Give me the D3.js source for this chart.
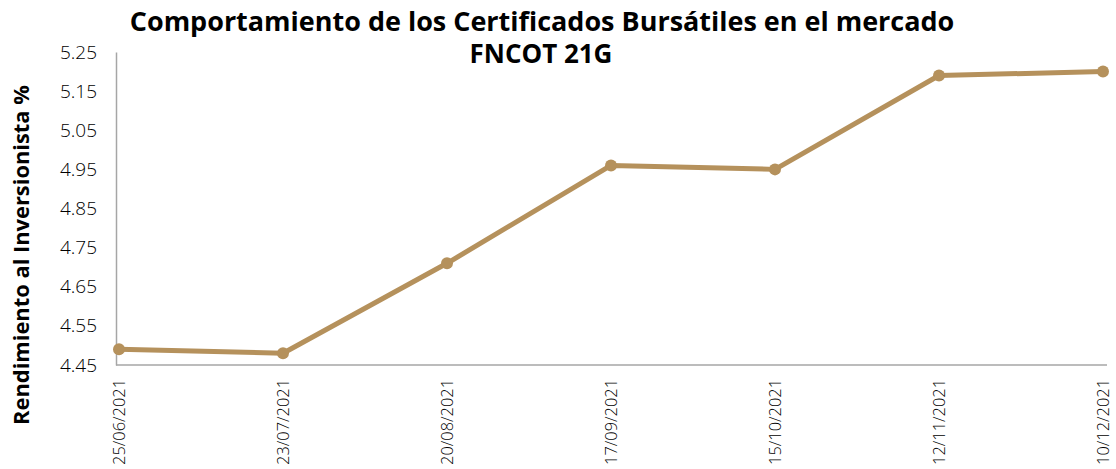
<!DOCTYPE html>
<html>
<head>
<meta charset="utf-8">
<script src="https://cdn.jsdelivr.net/npm/d3@7"></script>
<style>
  body { margin: 0; background: #fff; }
  svg { display: block; font-family: "Open Sans", "Noto Sans", sans-serif; }
</style>
</head>
<body>
<div id="chart"></div>
<script>
// Datos del gráfico
const fechas = ["25/06/2021", "23/07/2021", "20/08/2021", "17/09/2021", "15/10/2021", "12/11/2021", "10/12/2021"];
const rendimiento = [4.49, 4.48, 4.71, 4.96, 4.95, 5.19, 5.20];
const yTicks = [4.45, 4.55, 4.65, 4.75, 4.85, 4.95, 5.05, 5.15, 5.25];
const titulo = ["Comportamiento de los Certificados Bursátiles en el mercado", "FNCOT 21G"];
const tituloY = "Rendimiento al Inversionista %";

const width = 1116;
const height = 469;
const color = "#b5915c";
const fuente = "\"Open Sans\", \"Noto Sans\", sans-serif";

const svg = d3.select("#chart")
  .append("svg")
  .attr("width", width)
  .attr("height", height);

// ajusta el tamaño de letra para que el texto ocupe el ancho medido en la imagen
function ajustar(sel, ancho) {
  sel.each(function() {
    const w = this.getComputedTextLength();
    const fs = parseFloat(d3.select(this).attr("font-size"));
    d3.select(this).attr("font-size", fs * ancho / w);
  });
}

// Escalas
const x = d3.scalePoint()
  .domain(fechas)
  .range([119, 1103]);

const y = d3.scaleLinear()
  .domain([4.45, 5.25])
  .range([365, 52]);

// Eje Y
const yAxis = d3.axisLeft(y).tickValues(yTicks).tickSize(0).tickPadding(19)
  .tickFormat(d3.format(".2f"));
svg.append("g")
  .attr("transform", "translate(116,0)")
  .call(yAxis)
  .attr("font-family", fuente)
  .call(g => g.select(".domain").attr("stroke", "#a6a6a6").attr("stroke-width", 1.5))
  .call(g => g.selectAll("text")
    .attr("font-size", 19)
    .attr("font-weight", 300)
    .attr("fill", "#000"));

// Eje X
const xAxis = d3.axisBottom(x).tickSize(0).tickPadding(0);
svg.append("g")
  .attr("transform", "translate(0,365)")
  .call(xAxis)
  .attr("font-family", fuente)
  .call(g => g.select(".domain")
    .attr("d", "M-3,0H988")
    .attr("transform", "translate(119,0)")
    .attr("stroke", "#a6a6a6").attr("stroke-width", 1.5))
  .call(g => g.selectAll("text")
    .attr("font-size", 17)
    .attr("font-weight", 300)
    .attr("fill", "#000")
    .attr("text-anchor", "end")
    .attr("dy", "0.35em")
    .attr("transform", "translate(0,14) rotate(-90)")
    .attr("y", 0)
    .attr("x", 0)
    .call(ajustar, 86));

// Línea
const line = d3.line()
  .x((d, i) => x(fechas[i]))
  .y(d => y(d));

svg.append("path")
  .datum(rendimiento)
  .attr("fill", "none")
  .attr("stroke", color)
  .attr("stroke-width", 5)
  .attr("stroke-linejoin", "round")
  .attr("d", line);

svg.selectAll("circle.pt")
  .data(rendimiento)
  .enter()
  .append("circle")
  .attr("class", "pt")
  .attr("cx", (d, i) => x(fechas[i]))
  .attr("cy", d => y(d))
  .attr("r", 6)
  .attr("fill", color);

// Título
svg.append("text")
  .attr("x", 542).attr("y", 31)
  .attr("text-anchor", "middle")
  .attr("font-size", 22).attr("font-weight", 700).attr("fill", "#000")
  .text(titulo[0])
  .call(ajustar, 825);

svg.append("text")
  .attr("x", 541).attr("y", 63)
  .attr("text-anchor", "middle")
  .attr("font-size", 22).attr("font-weight", 700).attr("fill", "#000")
  .text(titulo[1])
  .call(ajustar, 143);

// Título del eje Y
svg.append("text")
  .attr("transform", "translate(29,255) rotate(-90)")
  .attr("text-anchor", "middle")
  .attr("font-size", 18).attr("font-weight", 700).attr("fill", "#000")
  .text(tituloY)
  .call(ajustar, 340);
</script>
</body>
</html>
